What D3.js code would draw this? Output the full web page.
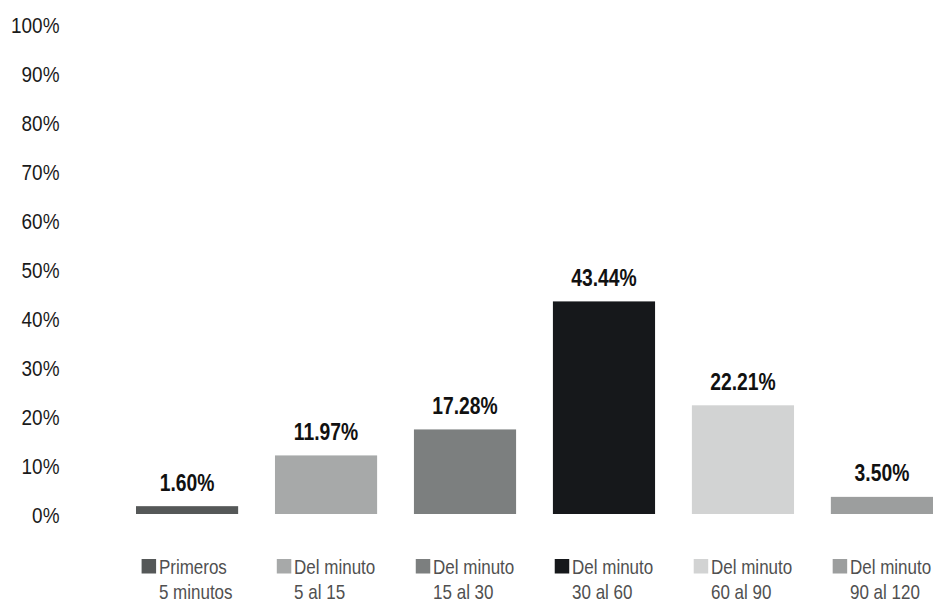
<!DOCTYPE html>
<html>
<head>
<meta charset="utf-8">
<script src="https://cdn.jsdelivr.net/npm/d3@7"></script>
<style>
  html, body { margin: 0; padding: 0; background: #fff; }
  svg { display: block; }
  .tick-label { font-family: "Liberation Sans", Arial, sans-serif; font-size: 22.3px; fill: #1a1a1a; }
  .value-label { font-family: "Liberation Sans", Arial, sans-serif; font-size: 23px; font-weight: bold; fill: #111; }
  .legend-label { font-family: "Liberation Sans", Arial, sans-serif; font-size: 20px; fill: #505050; }
</style>
</head>
<body>
<div id="chart"></div>
<script>
// Share of cases by elapsed-time bracket
const categories = ["Primeros 5 minutos", "Del minuto 5 al 15", "Del minuto 15 al 30", "Del minuto 30 al 60", "Del minuto 60 al 90", "Del minuto 90 al 120"];
const legendLine1 = ["Primeros", "Del minuto", "Del minuto", "Del minuto", "Del minuto", "Del minuto"];
const legendLine2 = ["5 minutos", "5 al 15", "15 al 30", "30 al 60", "60 al 90", "90 al 120"];
const values = [1.60, 11.97, 17.28, 43.44, 22.21, 3.50];
const colors = ["#555858", "#a7a9a9", "#7c7f7f", "#16181b", "#d2d3d3", "#9c9e9e"];
const yTicks = [0, 10, 20, 30, 40, 50, 60, 70, 80, 90, 100];

// Condensed look for the sans-serif text
const TICK_SX = 0.85, VALUE_SX = 0.84, LEGEND_SX = 0.85;

const width = 934, height = 603;
const svg = d3.select("#chart").append("svg")
  .attr("width", width).attr("height", height);

const x = d3.scaleBand()
  .domain(categories)
  .range([136, 933])
  .paddingInner(0.265)
  .paddingOuter(0);

const y = d3.scaleLinear()
  .domain([0, 100])
  .range([514, 24.6]);

// Y axis labels (no line, no tick marks)
const yAxis = d3.axisLeft(y)
  .tickValues(yTicks)
  .tickFormat(d => d + "%")
  .tickSize(0)
  .tickPadding(0);

const yg = svg.append("g")
  .attr("transform", "translate(59.5,0)")
  .call(yAxis);
yg.select(".domain").remove();
yg.attr("font-family", null).attr("font-size", null);
yg.selectAll("text")
  .attr("class", "tick-label")
  .attr("fill", null)
  .attr("x", 0)
  .attr("y", 0)
  .attr("dy", "0.36em")
  .attr("transform", `scale(${TICK_SX},1)`);

// Bars
svg.append("g").selectAll("rect")
  .data(values)
  .join("rect")
  .attr("x", (d, i) => x(categories[i]))
  .attr("width", x.bandwidth())
  .attr("y", d => y(d))
  .attr("height", d => y(0) - y(d))
  .attr("fill", (d, i) => colors[i]);

// Value labels above the bars
svg.append("g").selectAll("text")
  .data(values)
  .join("text")
  .attr("class", "value-label")
  .attr("text-anchor", "middle")
  .attr("transform", (d, i) =>
    `translate(${x(categories[i]) + x.bandwidth() / 2},${y(d) - 15.5}) scale(${VALUE_SX},1)`)
  .text(d => d.toFixed(2) + "%");

// Legend: one two-line entry centred under each bar
const SW = 14.5, GAP = 2.8;
const lg = svg.append("g").selectAll("g")
  .data(categories)
  .join("g");

lg.append("rect")
  .attr("x", 0).attr("y", 559)
  .attr("width", SW).attr("height", SW)
  .attr("fill", (c, i) => colors[i]);

lg.append("text")
  .attr("class", "legend-label l1")
  .attr("transform", `translate(${SW + GAP},574) scale(${LEGEND_SX},1)`)
  .text((c, i) => legendLine1[i]);

lg.append("text")
  .attr("class", "legend-label l2")
  .attr("transform", `translate(${SW + GAP},599) scale(${LEGEND_SX},1)`)
  .text((c, i) => legendLine2[i]);

lg.each(function(c) {
  const g = d3.select(this);
  const w1 = g.select(".l1").node().getComputedTextLength() * LEGEND_SX;
  const w2 = g.select(".l2").node().getComputedTextLength() * LEGEND_SX;
  const total = SW + GAP + Math.max(w1, w2);
  const cx = x(c) + x.bandwidth() / 2;
  g.attr("transform", `translate(${cx - total / 2},0)`);
});
</script>
</body>
</html>
